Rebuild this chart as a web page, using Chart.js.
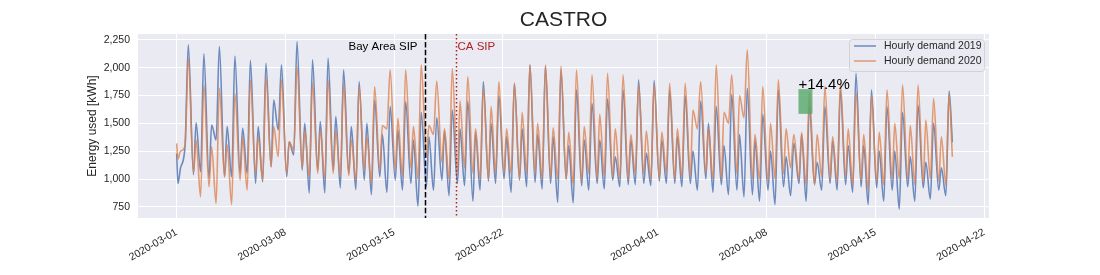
<!DOCTYPE html>
<html>
<head>
<meta charset="utf-8">
<script src="https://cdn.jsdelivr.net/npm/chart.js@4.4.1/dist/chart.umd.min.js"></script>
<style>
  html, body { margin: 0; padding: 0; background: #fff; }
  #wrap { width: 1100px; height: 275px; position: relative; }
</style>
</head>
<body>
<div id="wrap"><canvas id="castroChart"></canvas></div>
<script>
// CASTRO hourly demand, March-April 2019 vs 2020

// x axis: days since 2020-03-01
const xTickDays = [0, 7, 14, 21, 31, 38, 45, 52];
const xTickLabels = ['2020-03-01', '2020-03-08', '2020-03-15', '2020-03-22', '2020-04-01', '2020-04-08', '2020-04-15', '2020-04-22'];
const yTicks = [750, 1000, 1250, 1500, 1750, 2000, 2250];

// each day row: values read at [02h, 06h, 13h, 18h]
const sampleHours = [2, 6, 13, 18];
const startValues = { y2019: 1230, y2020: 1320 };   // 03-01 00h
const endValues = { y2019: 1330, y2020: 1200 };     // 04-19 23h

const demand2019 = [
  [960, 1100, 1300, 2205], [1040, 1505, 1065, 2125], [1005, 1485, 1350, 2190], [1020, 1470, 1020, 2105],
  [1050, 1455, 1050, 2065], [960, 1470, 975, 2040], [1110, 1710, 1440, 2025], [1020, 1335, 1215, 2235],
  [1080, 1500, 875, 2070], [1080, 1515, 875, 2085], [1080, 1560, 920, 1980], [1050, 1470, 905, 1875],
  [990, 1500, 860, 1710], [1020, 1400, 880, 1650], [990, 1440, 900, 1695], [960, 1350, 755, 1600],
  [930, 1380, 900, 1550], [990, 1430, 850, 1620], [960, 1450, 940, 1700], [800, 1420, 900, 1875],
  [980, 1500, 960, 1750], [1000, 1380, 880, 1860], [990, 1450, 930, 2025], [970, 1400, 910, 2015],
  [960, 1380, 790, 1980], [1000, 1300, 785, 1800], [940, 1350, 900, 1680], [960, 1350, 910, 1720],
  [990, 1200, 930, 1800], [950, 1350, 950, 1890], [960, 1230, 940, 1885], [980, 1350, 960, 1800],
  [960, 1380, 930, 1750], [960, 1250, 900, 1700], [1000, 1500, 880, 1650], [950, 1300, 860, 1760],
  [900, 1400, 840, 1815], [860, 1350, 800, 1580], [900, 1250, 770, 1800], [930, 1200, 850, 1320],
  [960, 1400, 800, 1650], [950, 1150, 900, 1650], [960, 1340, 900, 1800], [950, 1300, 880, 1950],
  [930, 1300, 770, 1800], [920, 1250, 800, 1650], [900, 1250, 730, 1600], [930, 1200, 800, 1665],
  [920, 1150, 820, 1500], [900, 1100, 850, 1790]
];

const demand2020 = [
  [1180, 1250, 1300, 2085], [1055, 1350, 840, 1846], [930, 1290, 780, 1816], [1020, 1310, 770, 1771],
  [990, 1380, 900, 1890], [1050, 1380, 990, 1920], [1110, 1470, 1200, 1890], [1050, 1335, 1260, 2010],
  [1100, 1440, 1020, 1860], [1050, 1440, 1005, 1890], [1050, 1440, 1020, 1850], [1030, 1350, 990, 1830],
  [1080, 1380, 960, 1830], [1080, 1480, 1450, 1980], [1080, 1545, 1020, 1980], [1100, 1470, 1000, 2025],
  [1200, 1480, 1400, 1880], [1150, 1450, 1000, 1995], [1050, 1700, 1100, 1920], [1050, 1450, 1000, 1820],
  [1000, 1650, 1050, 1875], [1050, 1450, 1050, 1860], [1000, 1600, 1050, 2025], [1050, 1500, 1000, 2025],
  [1020, 1460, 1000, 2015], [1000, 1420, 950, 1980], [980, 1470, 1050, 1935], [1000, 1580, 1020, 1950],
  [1020, 1450, 1000, 1935], [1000, 1400, 1050, 1846], [1050, 1430, 1000, 1850], [1010, 1420, 1050, 1860],
  [1000, 1450, 1020, 1860], [1020, 1620, 1450, 1875], [1050, 1450, 1000, 2025], [1000, 1600, 1500, 1935],
  [1050, 1750, 1550, 2160], [1000, 1400, 1000, 1830], [980, 1500, 1000, 1890], [1050, 1450, 1100, 1400],
  [1000, 1420, 950, 1780], [950, 1400, 1020, 1830], [1000, 1380, 980, 1860], [1020, 1450, 950, 1780],
  [990, 1400, 900, 1750], [980, 1420, 950, 1800], [1000, 1500, 1000, 1846], [1000, 1480, 950, 1846],
  [970, 1530, 1000, 1725], [980, 1380, 950, 1760]
];

// shelter-in-place markers (days since 03-01)
const bayAreaSipDay = 16;
const caSipDay = 18;

// change bar
const changeBarDays = [40.05, 40.95];
const changeBarRange = [1585, 1807];
const changeLabel = '+14.4%';

const blueLine = 'rgba(76,114,176,0.8)';
const orangeLine = 'rgba(221,132,82,0.8)';
const fontFam = '"Liberation Sans", Arial, sans-serif';

function toPoints(rows, start, end) {
  const pts = [{ x: 0, y: start }];
  rows.forEach((row, d) => row.forEach((v, k) => pts.push({ x: d + sampleHours[k] / 24, y: v })));
  pts.push({ x: rows.length - 1 + 23 / 24, y: end });
  return pts;
}

const decorPlugin = {
  id: 'decor',
  beforeDraw(chart) {
    const { ctx, chartArea: a } = chart;
    ctx.save();
    ctx.fillStyle = '#EAEAF2';
    ctx.fillRect(a.left, a.top, a.right - a.left, a.bottom - a.top);
    ctx.restore();
  },
  afterDatasetsDraw(chart) {
    const { ctx, chartArea: a, scales: { x, y } } = chart;
    ctx.save();

    // green change bar
    const bx0 = x.getPixelForValue(changeBarDays[0]), bx1 = x.getPixelForValue(changeBarDays[1]);
    const by0 = y.getPixelForValue(changeBarRange[1]), by1 = y.getPixelForValue(changeBarRange[0]);
    ctx.fillStyle = 'rgba(85,168,104,0.8)';
    ctx.fillRect(bx0, by0, bx1 - bx0, by1 - by0);
    ctx.fillStyle = '#000';
    ctx.font = '15px ' + fontFam;
    ctx.textAlign = 'left';
    ctx.textBaseline = 'alphabetic';
    ctx.fillText(changeLabel, bx0, by0 - 0.5);

    // SIP lines
    const xb = Math.round(x.getPixelForValue(bayAreaSipDay)) + 0.5;
    ctx.strokeStyle = '#000';
    ctx.lineWidth = 1.5;
    ctx.setLineDash([5.5, 2.4]);
    ctx.beginPath(); ctx.moveTo(xb, a.top); ctx.lineTo(xb, a.bottom); ctx.stroke();

    const xc = Math.round(x.getPixelForValue(caSipDay)) + 0.5;
    ctx.strokeStyle = '#b22222';
    ctx.setLineDash([1.5, 2.5]);
    ctx.beginPath(); ctx.moveTo(xc, a.top); ctx.lineTo(xc, a.bottom); ctx.stroke();
    ctx.setLineDash([]);

    ctx.font = '11.5px ' + fontFam;
    ctx.textBaseline = 'middle';
    ctx.fillStyle = '#000';
    ctx.textAlign = 'right';
    ctx.fillText('Bay Area SIP', xb - 8, 47);
    ctx.fillStyle = '#b22222';
    ctx.textAlign = 'left';
    ctx.fillText('CA SIP', xc + 1, 47);

    // legend
    ctx.fillStyle = 'rgba(234,234,242,0.8)';
    ctx.strokeStyle = 'rgba(204,204,204,0.8)';
    ctx.lineWidth = 1;
    ctx.beginPath();
    ctx.roundRect(849.5, 39.5, 135, 32, 3);
    ctx.fill(); ctx.stroke();
    const items = [['Hourly demand 2019', blueLine, 46], ['Hourly demand 2020', orangeLine, 61]];
    ctx.font = '10.5px ' + fontFam;
    ctx.textAlign = 'left';
    items.forEach(([label, col, ly]) => {
      ctx.strokeStyle = col; ctx.lineWidth = 1.5;
      ctx.beginPath(); ctx.moveTo(854, ly); ctx.lineTo(876, ly); ctx.stroke();
      ctx.fillStyle = '#262626';
      ctx.fillText(label, 884, ly);
    });

    // title and y label
    ctx.fillStyle = '#262626';
    ctx.textAlign = 'center';
    ctx.font = '21px ' + fontFam;
    ctx.fillText('CASTRO', (a.left + a.right) / 2, 20);
    ctx.translate(93, (a.top + a.bottom) / 2);
    ctx.rotate(-Math.PI / 2);
    ctx.font = '12px ' + fontFam;
    ctx.fillText('Energy used [kWh]', 0, 0);
    ctx.restore();
  }
};

new Chart(document.getElementById('castroChart'), {
  type: 'line',
  data: {
    datasets: [
      { label: 'Hourly demand 2019', data: toPoints(demand2019, startValues.y2019, endValues.y2019),
        borderColor: blueLine, borderWidth: 1.6, pointRadius: 0, cubicInterpolationMode: 'monotone', order: 1 },
      { label: 'Hourly demand 2020', data: toPoints(demand2020, startValues.y2020, endValues.y2020),
        borderColor: orangeLine, borderWidth: 1.6, pointRadius: 0, cubicInterpolationMode: 'monotone', order: 0 }
    ]
  },
  options: {
    responsive: true,
    maintainAspectRatio: false,
    animation: false,
    layout: { padding: { top: 34, right: 111, bottom: 0, left: 0 } },
    plugins: { legend: { display: false }, tooltip: { enabled: false } },
    scales: {
      x: {
        type: 'linear', min: -2.49, max: 52.32,
        afterBuildTicks: s => { s.ticks = xTickDays.map(v => ({ value: v })); },
        afterFit: s => { s.height = 57; },
        ticks: { callback: (v, i) => xTickLabels[i], autoSkip: false, minRotation: 30, maxRotation: 30,
                 color: '#262626', font: { family: fontFam, size: 10.5 }, padding: 8 },
        grid: { color: '#ffffff', lineWidth: 1, drawTicks: false },
        border: { display: false }
      },
      y: {
        min: 650, max: 2302,
        afterBuildTicks: s => { s.ticks = yTicks.map(v => ({ value: v })); },
        afterFit: s => { s.width = 138; },
        ticks: { callback: v => v.toLocaleString('en-US'), color: '#262626',
                 font: { family: fontFam, size: 10.5 }, padding: 8 },
        grid: { color: '#ffffff', lineWidth: 1, drawTicks: false },
        border: { display: false }
      }
    }
  },
  plugins: [decorPlugin]
});
</script>
</body>
</html>
